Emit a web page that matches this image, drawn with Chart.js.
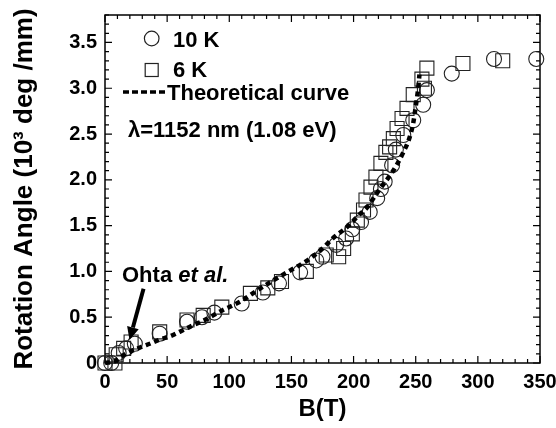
<!DOCTYPE html>
<html>
<head>
<meta charset="utf-8">
<script src="https://cdn.jsdelivr.net/npm/chart.js@4.4.0/dist/chart.umd.min.js"></script>
<style>
  html, body { margin: 0; padding: 0; background: #fff; }
</style>
</head>
<body>
<canvas id="rotChart" width="556" height="428"></canvas>
<script>
// ===================== DATA =====================
// 10 K measurements (circles)
const b10K = [0, 5, 11, 17, 24, 44, 66, 78, 88, 110, 127, 140, 157, 170, 175, 186, 194, 199, 206, 213, 219, 222, 225, 231, 234, 240, 248, 256, 259, 279, 313, 347];
const rot10K = [0, 0, 0.11, 0.16, 0.21, 0.32, 0.45, 0.50, 0.55, 0.65, 0.77, 0.87, 0.99, 1.12, 1.16, 1.29, 1.36, 1.46, 1.54, 1.65, 1.80, 1.90, 1.98, 2.16, 2.33, 2.49, 2.65, 2.82, 2.98, 3.16, 3.32, 3.32];

// 6 K measurements (squares)
const b6K = [0, 8, 9, 15, 21, 44, 66, 79, 94, 117, 131, 142, 162, 178, 188, 192, 199, 203, 208, 210, 214, 218, 222, 226, 229, 232, 235, 239, 243, 248, 255, 257, 259, 288, 320];
const rot6K = [0, 0, 0.09, 0.16, 0.23, 0.34, 0.47, 0.52, 0.61, 0.76, 0.82, 0.89, 1.00, 1.18, 1.16, 1.25, 1.41, 1.56, 1.67, 1.78, 1.92, 2.03, 2.18, 2.30, 2.36, 2.45, 2.56, 2.67, 2.78, 2.93, 3.10, 3.00, 3.22, 3.27, 3.30];

// theoretical curve
const bTheory = [0, 8, 12, 18, 23, 30, 36, 45, 52, 60, 66, 72, 79, 87, 95, 103, 110, 121, 134, 149, 158, 165, 175, 184, 197, 203, 211, 218, 225, 230, 235, 240, 245, 248, 250, 252, 253];
const rotTheory = [0, 0.02, 0.06, 0.11, 0.14, 0.18, 0.21, 0.26, 0.29, 0.34, 0.38, 0.42, 0.46, 0.52, 0.58, 0.63, 0.68, 0.78, 0.89, 1.01, 1.08, 1.14, 1.25, 1.37, 1.51, 1.60, 1.70, 1.84, 1.97, 2.06, 2.17, 2.30, 2.46, 2.62, 2.80, 3.00, 3.15];

// axis ticks
const xTickValues = [0, 50, 100, 150, 200, 250, 300, 350];
const yTickValues = [0, 0.5, 1, 1.5, 2, 2.5, 3, 3.5];
const yTickLabels = ['0', '0.5', '1.0', '1.5', '2.0', '2.5', '3.0', '3.5'];

// Ohta et al. arrow (tail -> tip, data coords)
const arrowB = [31, 19.7];
const arrowRot = [0.81, 0.25];

const FONT = "'Liberation Sans', Arial, Helvetica, sans-serif";
const INK = '#000';
const MARK = '#222';

const toPoints = (xs, ys) => xs.map((v, i) => ({ x: v, y: ys[i] }));

// ===================== FRAME, TICKS AND NOTES =====================
const frameAndNotes = {
    id: 'frameAndNotes',
    beforeDatasetsDraw(chart) {
        const { ctx, chartArea: a, scales: { x, y } } = chart;
        ctx.save();
        ctx.strokeStyle = INK;
        ctx.lineWidth = 1.5;
        ctx.strokeRect(a.left, a.top, a.right - a.left, a.bottom - a.top);

        // inward ticks on all four sides
        ctx.lineWidth = 1.2;
        ctx.beginPath();
        for (let v = 0; v <= 350; v += 10) {
            const px = x.getPixelForValue(v);
            const len = v % 50 === 0 ? 7 : 4;
            ctx.moveTo(px, a.bottom); ctx.lineTo(px, a.bottom - len);
            ctx.moveTo(px, a.top); ctx.lineTo(px, a.top + len);
        }
        for (let i = 0; i <= 38; i++) {
            const py = y.getPixelForValue(i / 10);
            const len = i % 5 === 0 ? 7 : 4;
            ctx.moveTo(a.left, py); ctx.lineTo(a.left + len, py);
            ctx.moveTo(a.right, py); ctx.lineTo(a.right - len, py);
        }
        ctx.stroke();
        ctx.restore();
    },
    afterDraw(chart) {
        const { ctx, chartArea: a, scales: { x, y } } = chart;
        const L = a.left, T = a.top;
        ctx.save();
        ctx.fillStyle = INK;
        ctx.strokeStyle = MARK;
        ctx.textBaseline = 'alphabetic';
        ctx.textAlign = 'left';
        ctx.font = `bold 22px ${FONT}`;

        // legend: circle
        ctx.lineWidth = 1.2;
        ctx.beginPath();
        ctx.arc(L + 46.7, T + 23.5, 7.3, 0, Math.PI * 2);
        ctx.stroke();
        ctx.fillText('10 K', L + 68, T + 31.5);

        // legend: square
        ctx.strokeRect(L + 40.2, T + 48.5, 13, 13);
        ctx.fillText('6 K', L + 68, T + 62);

        // legend: dashed line
        ctx.save();
        ctx.strokeStyle = INK;
        ctx.lineWidth = 3.5;
        ctx.setLineDash([6, 3]);
        ctx.beginPath();
        ctx.moveTo(L + 18, T + 77);
        ctx.lineTo(L + 60, T + 77);
        ctx.stroke();
        ctx.restore();
        ctx.fillText('Theoretical curve', L + 62, T + 85);

        ctx.fillText('\u03bb=1152 nm (1.08 eV)', L + 23, T + 122);

        // Ohta et al.
        const ox = L + 17, oy = 282;
        ctx.fillText('Ohta ', ox, oy);
        const w = ctx.measureText('Ohta ').width;
        ctx.font = `italic bold 22px ${FONT}`;
        ctx.fillText('et al.', ox + w, oy);

        // arrow
        const x0 = x.getPixelForValue(arrowB[0]), y0 = y.getPixelForValue(arrowRot[0]);
        const x1 = x.getPixelForValue(arrowB[1]), y1 = y.getPixelForValue(arrowRot[1]);
        const ang = Math.atan2(y1 - y0, x1 - x0);
        const head = 13, half = 6;
        const bx = x1 - head * Math.cos(ang), by = y1 - head * Math.sin(ang);
        ctx.strokeStyle = INK;
        ctx.lineWidth = 4;
        ctx.beginPath();
        ctx.moveTo(x0, y0);
        ctx.lineTo(bx, by);
        ctx.stroke();
        ctx.beginPath();
        ctx.moveTo(x1, y1);
        ctx.lineTo(bx + half * Math.sin(ang), by - half * Math.cos(ang));
        ctx.lineTo(bx - half * Math.sin(ang), by + half * Math.cos(ang));
        ctx.closePath();
        ctx.fill();
        ctx.restore();
    }
};

// ===================== CHART =====================
new Chart(document.getElementById('rotChart'), {
    type: 'scatter',
    data: {
        datasets: [
            {
                label: 'Theoretical curve',
                data: toPoints(bTheory, rotTheory),
                showLine: true,
                borderColor: INK,
                borderWidth: 4.5,
                borderDash: [5, 4],
                cubicInterpolationMode: 'monotone',
                pointRadius: 0,
                fill: false,
                order: 0,
                clip: false
            },
            {
                label: '10 K',
                data: toPoints(b10K, rot10K),
                pointStyle: 'circle',
                pointRadius: 7.5,
                borderColor: MARK,
                borderWidth: 1.1,
                backgroundColor: 'rgba(0,0,0,0)',
                order: 1,
                clip: false
            },
            {
                label: '6 K',
                data: toPoints(b6K, rot6K),
                pointStyle: 'rect',
                pointRadius: 9.9,
                borderColor: MARK,
                borderWidth: 1.1,
                backgroundColor: 'rgba(0,0,0,0)',
                order: 2,
                clip: false
            }
        ]
    },
    options: {
        responsive: false,
        animation: false,
        devicePixelRatio: 1,
        layout: { padding: { left: 0, right: 16, top: 15, bottom: 0 } },
        plugins: {
            legend: { display: false },
            tooltip: { enabled: false }
        },
        scales: {
            x: {
                type: 'linear',
                position: 'bottom',
                min: 0,
                max: 350,
                grid: { display: false, drawTicks: false },
                border: { display: false },
                afterBuildTicks: (s) => { s.ticks = xTickValues.map(v => ({ value: v })); },
                afterFit: (s) => { s.height = 65; s.paddingLeft = 0; s.paddingRight = 0; },
                ticks: {
                    color: INK,
                    padding: 7,
                    maxRotation: 0,
                    autoSkip: false,
                    font: { family: FONT, size: 20, weight: 'bold' },
                    callback: (v) => String(v)
                },
                title: {
                    display: true,
                    text: 'B(T)',
                    color: INK,
                    font: { family: FONT, size: 24, weight: 'bold' },
                    padding: { top: 0, bottom: 4 }
                }
            },
            y: {
                type: 'linear',
                min: 0,
                max: 3.8,
                grid: { display: false, drawTicks: false },
                border: { display: false },
                afterBuildTicks: (s) => { s.ticks = yTickValues.map(v => ({ value: v })); },
                afterFit: (s) => { s.width = 105; s.paddingTop = 0; s.paddingBottom = 0; },
                ticks: {
                    color: INK,
                    padding: 8,
                    autoSkip: false,
                    font: { family: FONT, size: 20, weight: 'bold' },
                    callback: (v, i) => yTickLabels[i]
                },
                title: {
                    display: true,
                    text: 'Rotation Angle (10\u00b3 deg /mm)',
                    color: INK,
                    font: { family: FONT, size: 26, weight: 'bold' },
                    padding: { top: 9, bottom: 0 }
                }
            }
        }
    },
    plugins: [frameAndNotes]
});
</script>
</body>
</html>
